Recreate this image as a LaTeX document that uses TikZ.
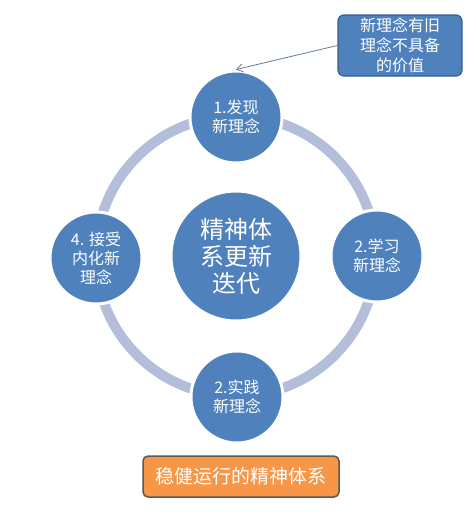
\documentclass[tikz,border=0pt]{standalone}
\usepackage{fontspec}
\setmainfont{Noto Sans CJK SC}
\usetikzlibrary{arrows.meta}
\definecolor{cblue}{HTML}{4F81BD}
\definecolor{cdark}{HTML}{385D8A}
\definecolor{cring}{HTML}{B3BFDA}
\definecolor{corange}{HTML}{F79646}
\definecolor{cgray}{HTML}{595959}
\tikzset{
  stepcirc/.style={circle, fill=cblue, draw=white, line width=3pt, minimum size=92pt, inner sep=0pt, text=white, align=center, font=\fontsize{16}{19}\selectfont},
  corecirc/.style={circle, fill=cblue, draw=white, line width=3pt, minimum size=130pt, inner sep=0pt, text=white, align=center, font=\fontsize{24}{27}\selectfont},
  notebox/.style={rectangle, rounded corners=6pt, fill=cblue, draw=cdark, line width=1.2pt, minimum width=124pt, minimum height=61pt, inner sep=0pt, text=white, align=center, font=\fontsize{16}{20}\selectfont},
  resultbox/.style={rectangle, rounded corners=5pt, fill=corange, draw=cgray, line width=1.5pt, minimum width=196pt, minimum height=41pt, inner sep=0pt, text=white, font=\fontsize{19}{22}\selectfont},
}
\begin{document}
\begin{tikzpicture}[x=1pt,y=-1pt]
\useasboundingbox[fill=white] (0,0) rectangle (476,522);
\draw[cring, line width=10pt] (236,256) circle[radius=140];
\node[corecirc] (core) at (236,256) {精神体\\系更新\\迭代};
\node[stepcirc] (s1) at (236,117) {1.发现\\新理念};
\node[stepcirc] (s2) at (377,256) {2.学习\\新理念};
\node[stepcirc] (s3) at (237,397) {2.实践\\新理念};
\node[stepcirc] (s4) at (96,258) {4. 接受\\内化新\\理念};
\node[notebox] (note) at (400,45.5) {新理念有旧\\理念不具备\\的价值};
\node[resultbox] (res) at (241,476.5) {稳健运行的精神体系};
\draw[cdark!80, line width=0.8pt, -{Straight Barb[length=6pt,width=8pt]}] (note.west) -- (s1.north);
\end{tikzpicture}
\end{document}
